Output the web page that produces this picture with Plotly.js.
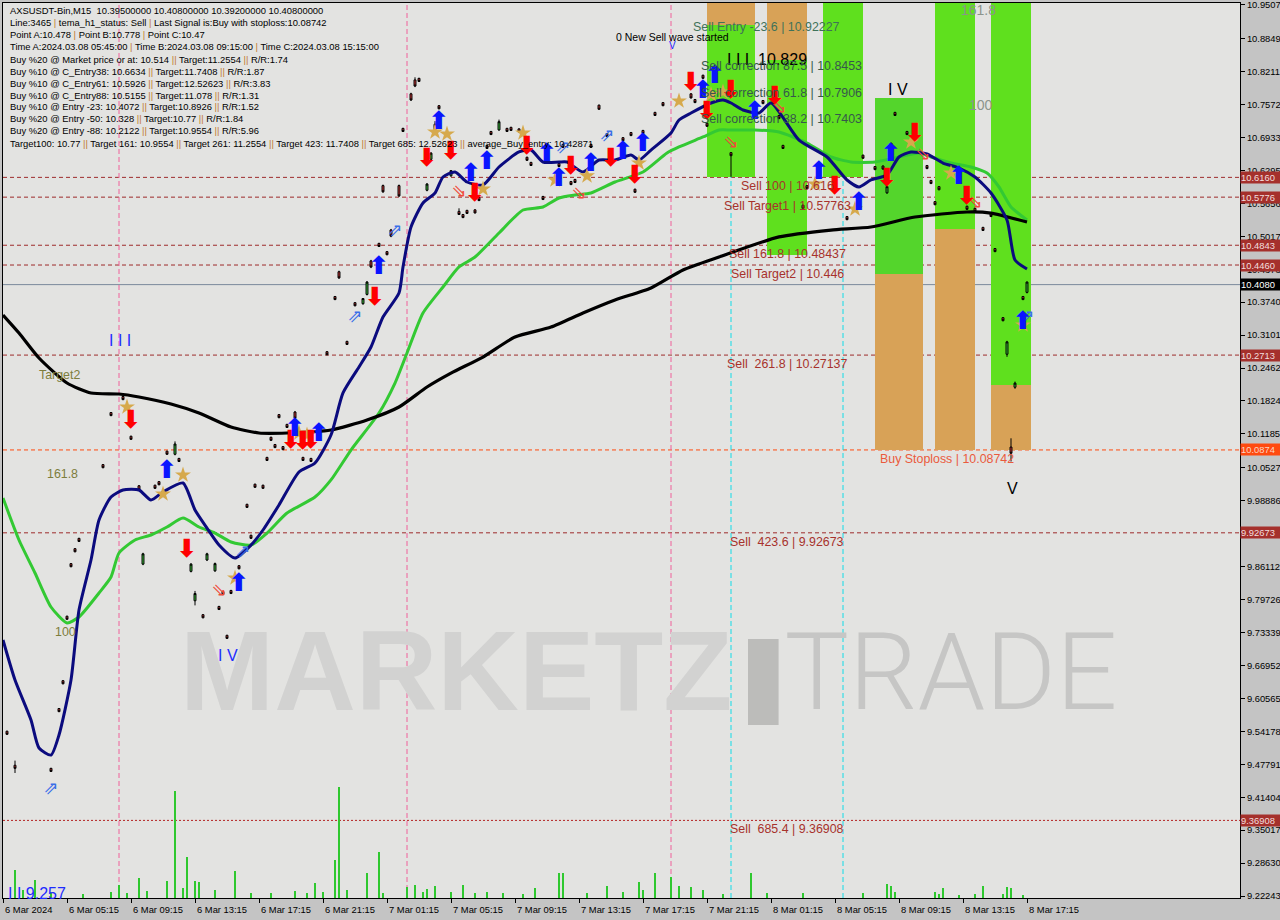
<!DOCTYPE html>
<html>
<head>
<meta charset="utf-8">
<script src="https://cdn.plot.ly/plotly-3.0.1.min.js"></script>
<style>html,body{margin:0;padding:0;background:#c4c4c4;}#chart{width:1280px;height:920px;}</style>
</head>
<body>
<div id="chart"></div>
<script>
// ---------- X axis (bar index, 15-minute bars) ----------
const tickBars = [0,16,32,48,64,80,96,112,128,144,160,176,192,208,224,240,256];
const tickLabels = ["6 Mar 2024","6 Mar 05:15","6 Mar 09:15","6 Mar 13:15","6 Mar 17:15","6 Mar 21:15","7 Mar 01:15","7 Mar 05:15","7 Mar 09:15","7 Mar 13:15","7 Mar 17:15","7 Mar 21:15","8 Mar 01:15","8 Mar 05:15","8 Mar 09:15","8 Mar 13:15","8 Mar 17:15"];

// ---------- Y axis (price) ----------
const yTickVals = [10.9507,10.8849,10.8211,10.7572,10.6933,10.6295,10.5656,10.5017,10.4378,10.3740,10.3101,10.2462,10.1824,10.1185,10.0527,9.98886,9.92499,9.86112,9.79726,9.73339,9.66952,9.60565,9.54178,9.47791,9.41404,9.35017,9.28630,9.22243];
const yTickText = ["10.9507","10.8849","10.8211","10.7572","10.6933","10.6295","10.5656","10.5017","10.4378","10.3740","10.3101","10.2462","10.1824","10.1185","10.0527","9.98886","9.92499","9.86112","9.79726","9.73339","9.66952","9.60565","9.54178","9.47791","9.41404","9.35017","9.28630","9.22243"];

// ---------- Moving-average lines ----------
const navyBar = [0,3,7,9,12,14,17,19,22,24,27,30,34,37,40,45,48,51,54,58,62,65,69,74,78,82,85,89,92,95,99,100,102,105,108,110,113,116,120,124,129,132,135,139,141,145,149,153,157,159,162,167,169,172,177,180,182,185,189,192,199,206,211,214,217,221,224,227,231,235,239,243,247,251,253,256];
const navyVal = [9.7189,9.6413,9.5637,9.5094,9.4958,9.5347,9.6413,9.7770,9.8740,9.9515,9.9962,10.0097,10.0097,9.9903,10.0059,10.0233,9.9710,9.9360,9.9030,9.8778,9.9030,9.9322,9.9807,10.0447,10.0622,10.1164,10.1979,10.2482,10.2870,10.3452,10.3917,10.4421,10.5197,10.5663,10.5856,10.6167,10.6264,10.6070,10.6012,10.6361,10.6652,10.6690,10.6458,10.6458,10.6458,10.6264,10.6496,10.6496,10.6593,10.6496,10.6690,10.7020,10.7272,10.7408,10.7602,10.7660,10.7602,10.7466,10.7408,10.7602,10.6884,10.6555,10.6109,10.5973,10.6109,10.6206,10.6555,10.6652,10.6613,10.6438,10.6341,10.6167,10.5856,10.5333,10.4557,10.4383];
const greenBar = [0,4,8,12,16,19,24,27,29,33,37,41,45,49,53,57,62,66,71,78,82,87,94,98,101,105,110,114,118,124,130,135,139,143,147,153,160,166,169,175,179,182,188,194,201,207,212,218,224,229,232,237,242,246,249,252,256];
const greenVal = [9.9942,9.9128,9.8488,9.7829,9.7519,9.7635,9.8100,9.8410,9.8876,9.9128,9.9225,9.9380,9.9555,9.9380,9.9263,9.9089,9.9030,9.9263,9.9651,9.9961,10.0293,10.0873,10.1590,10.2172,10.2754,10.3530,10.4034,10.4422,10.4615,10.5081,10.5527,10.5585,10.5760,10.5818,10.5857,10.6070,10.6264,10.6632,10.6749,10.6943,10.7078,10.7078,10.7078,10.7040,10.6826,10.6555,10.6458,10.6458,10.6555,10.6632,10.6555,10.6438,10.6361,10.6244,10.5973,10.5585,10.5333];
const blackBar = [0,4,9,16,22,29,34,42,49,57,64,71,82,91,99,106,112,120,128,137,145,153,162,170,179,194,207,217,228,241,247,256];
const blackVal = [10.3491,10.3142,10.2657,10.2172,10.1978,10.1959,10.1901,10.1765,10.1591,10.1319,10.1203,10.1203,10.1261,10.1455,10.1707,10.2095,10.2364,10.2676,10.3064,10.3257,10.3530,10.3782,10.4015,10.4364,10.4616,10.5005,10.5138,10.5197,10.5391,10.5488,10.5468,10.5294];

// ---------- Candles ----------
const candleBar = [1,3,12,14,15,16,17,18,19,25,27,30,32,34,35,38,39,41,43,44,47,48,50,51,53,54,55,56,57,59,61,62,63,65,66,67,68,69,70,71,73,75,77,81,83,84,86,88,90,91,92,94,95,96,97,99,100,102,103,104,106,107,108,109,112,114,115,116,118,119,121,122,124,126,127,129,131,132,135,139,140,142,143,147,149,151,155,157,158,160,163,165,172,173,175,176,182,190,194,195,200,201,204,208,211,215,218,220,221,222,223,226,231,232,233,234,241,243,245,247,248,250,251,252,253,255,256];
const candleOpen = [9.542,9.476,9.470,9.586,9.640,9.765,9.867,9.896,9.916,10.059,10.160,10.191,10.114,10.018,9.866,10.019,10.026,10.085,10.079,10.071,9.852,9.795,9.768,9.874,9.853,9.784,9.813,9.728,9.815,9.863,9.982,9.922,10.021,10.019,10.073,10.112,10.098,10.156,10.094,10.137,10.161,10.073,10.071,10.278,10.385,10.433,10.298,10.373,10.371,10.389,10.454,10.488,10.600,10.472,10.514,10.600,10.711,10.778,10.805,10.808,10.591,10.651,10.719,10.755,10.619,10.550,10.544,10.552,10.553,10.577,10.678,10.705,10.708,10.711,10.713,10.710,10.655,10.645,10.579,10.643,10.680,10.608,10.612,10.680,10.756,10.701,10.693,10.703,10.593,10.707,10.742,10.761,10.778,10.767,10.814,10.721,10.664,10.765,10.736,10.678,10.562,10.600,10.643,10.608,10.540,10.659,10.637,10.638,10.586,10.682,10.742,10.705,10.639,10.610,10.569,10.598,10.560,10.556,10.519,10.546,10.478,10.344,10.273,10.093,10.209,10.385,10.393];
const candleHigh = [9.543,9.485,9.471,9.587,9.641,9.766,9.868,9.897,9.917,10.060,10.161,10.192,10.115,10.019,9.888,10.020,10.027,10.086,10.104,10.072,9.868,9.814,9.769,9.888,9.869,9.785,9.814,9.729,9.816,9.864,9.983,9.923,10.022,10.020,10.074,10.113,10.099,10.157,10.095,10.138,10.163,10.074,10.072,10.279,10.386,10.435,10.299,10.374,10.382,10.415,10.456,10.489,10.602,10.473,10.516,10.602,10.712,10.780,10.810,10.809,10.605,10.665,10.725,10.756,10.630,10.556,10.545,10.553,10.554,10.578,10.679,10.706,10.728,10.712,10.714,10.711,10.656,10.646,10.580,10.644,10.681,10.609,10.613,10.681,10.757,10.702,10.694,10.704,10.594,10.708,10.743,10.762,10.779,10.768,10.815,10.722,10.665,10.766,10.737,10.679,10.563,10.601,10.644,10.609,10.541,10.660,10.638,10.639,10.600,10.683,10.743,10.706,10.640,10.611,10.570,10.599,10.561,10.557,10.520,10.547,10.479,10.345,10.299,10.110,10.220,10.386,10.414];
const candleLow = [9.535,9.461,9.463,9.579,9.633,9.758,9.860,9.889,9.909,10.052,10.153,10.184,10.107,10.009,9.864,10.012,10.019,10.078,10.077,10.064,9.850,9.786,9.761,9.872,9.851,9.777,9.806,9.721,9.808,9.856,9.975,9.915,10.014,10.012,10.066,10.105,10.091,10.149,10.087,10.130,10.147,10.066,10.064,10.271,10.378,10.419,10.291,10.366,10.369,10.387,10.440,10.481,10.586,10.465,10.500,10.578,10.704,10.764,10.791,10.801,10.589,10.649,10.708,10.748,10.617,10.543,10.537,10.545,10.546,10.570,10.671,10.698,10.706,10.704,10.706,10.703,10.648,10.638,10.572,10.636,10.673,10.601,10.605,10.673,10.747,10.694,10.686,10.696,10.586,10.700,10.735,10.754,10.769,10.760,10.807,10.714,10.617,10.758,10.729,10.671,10.555,10.593,10.636,10.601,10.533,10.652,10.630,10.631,10.584,10.675,10.735,10.698,10.632,10.603,10.562,10.591,10.553,10.549,10.512,10.539,10.471,10.337,10.268,10.065,10.206,10.378,10.391];
const candleClose = [9.536,9.470,9.464,9.580,9.634,9.759,9.861,9.890,9.910,10.053,10.154,10.185,10.108,10.010,9.886,10.013,10.020,10.079,10.099,10.065,9.866,9.809,9.762,9.886,9.867,9.778,9.807,9.722,9.809,9.857,9.976,9.916,10.015,10.013,10.067,10.106,10.092,10.150,10.088,10.131,10.149,10.067,10.065,10.272,10.379,10.421,10.292,10.367,10.381,10.413,10.442,10.482,10.588,10.466,10.502,10.580,10.705,10.766,10.793,10.802,10.603,10.663,10.709,10.749,10.629,10.544,10.538,10.546,10.547,10.571,10.672,10.699,10.724,10.705,10.707,10.704,10.649,10.639,10.573,10.637,10.674,10.602,10.606,10.674,10.748,10.695,10.687,10.697,10.587,10.701,10.736,10.755,10.770,10.761,10.808,10.715,10.658,10.759,10.730,10.672,10.556,10.594,10.637,10.602,10.534,10.653,10.631,10.632,10.598,10.676,10.736,10.699,10.633,10.604,10.563,10.592,10.554,10.550,10.513,10.540,10.472,10.338,10.297,10.081,10.217,10.379,10.413];

// ---------- Volume (relative units) ----------
const volumeBar = [3,5,8,12,20,27,29,31,34,36,41,43,45,46,48,49,53,58,62,67,73,76,78,80,83,84,86,91,94,95,101,103,105,106,108,112,115,118,121,125,130,133,139,140,146,151,155,159,160,163,167,169,172,175,180,187,191,200,215,221,222,223,233,234,235,239,243,245,250,251,252,255];
const volumeVal = [28,8,18,6,4,6,13,5,20,7,17,107,10,41,17,16,8,27,5,5,7,5,15,6,38,111,8,25,46,5,11,13,6,9,12,6,13,5,6,5,4,10,25,25,5,12,6,16,8,25,21,12,11,8,4,25,5,5,5,14,12,6,6,4,10,3,4,12,4,11,10,3];

// ---------- Signals ----------
const downArrowBar = [32,46,72,75,77,93,106,112,118,131,142,152,158,172,176,182,193,208,221,228,241];
const downArrowVal = [10.1416,9.8914,10.1028,10.1009,10.1028,10.3801,10.6496,10.6632,10.5818,10.6729,10.6341,10.6496,10.6167,10.7970,10.7408,10.7815,10.7699,10.5953,10.6109,10.6981,10.5759];
const upArrowBar = [41,59,73,79,94,109,117,121,136,139,147,155,160,175,178,188,204,214,222,239,255];
const upArrowVal = [10.0446,9.8255,10.1261,10.1164,10.4402,10.7214,10.6206,10.6438,10.6593,10.6109,10.6399,10.6632,10.6787,10.7815,10.8106,10.7408,10.6244,10.5643,10.6593,10.6148,10.3336];
const starBar = [31,45,40,58,74,76,111,108,120,130,138,146,159,169,177,180,203,213,227,237,255];
const starVal = [10.1707,10.0388,10.0020,9.8391,10.1203,10.1164,10.7001,10.7040,10.5934,10.7020,10.6109,10.6187,10.6438,10.7641,10.7766,10.7815,10.6031,10.5546,10.6846,10.6244,10.3297];
const hollowUpBar = [12,60,88,98,140,151,256];
const hollowUpVal = [9.4281,9.8895,10.3433,10.5104,10.6729,10.6962,10.3433];
const hollowDownBar = [54,114,144,182,194,230,243];
const hollowDownVal = [9.8139,10.5857,10.5837,10.6826,10.7505,10.6593,10.5662];

// ---------- Levels ----------
const levelPrice = [10.616,10.57763,10.48437,10.446,10.27137,10.08742,9.92673,9.36908];
const levelName = ["Sell 100 | 10.616","Sell Target1 | 10.57763","Sell 161.8 | 10.48437","Sell Target2 | 10.446","Sell  261.8 | 10.27137","Buy Stoploss | 10.08742","Sell  423.6 | 9.92673","Sell  685.4 | 9.36908"];
const levelTag = ["10.6160","10.5776","10.4843","10.4460","10.2713","10.0874","9.92673","9.36908"];
const levelKind = ["sell","sell","sell","sell","sell","stop","sell","far"];
const levelLabelBar = [196,196,196,196,196,236,196,196];
const currentPrice = 10.408;
const currentTag = "10.4080";

// ---------- Zones ----------
const zoneStart = [176,191,205,218,233,247];
const zoneEnd = [188,201,215,230,243,257];
const zoneGreenHigh = [10.9114,10.8436,10.9541,10.7699,10.9541,10.9541];
const zoneGreenLow = [10.6167,10.4654,10.6167,10.4286,10.5158,10.2134];
const zoneOrangeHigh = [10.9541,10.9541,null,10.4286,10.5158,10.2134];
const zoneOrangeLow = [10.9114,10.8436,null,10.0874,10.0874,10.0874];

// ---------- Vertical markers ----------
const vlineBar = [29,101,167,182,210];
const vlineKind = ["pink","pink","pink","cyan","cyan"];

// ---------- Notes on chart ----------
const noteText = ["Sell Entry -23.6 | 10.92227","0 New Sell wave started","V","I I I  10.829","Sell correction 87.5 | 10.8453","Sell correction 61.8 | 10.7906","Sell correction 38.2 | 10.7403","I V","161.8","100","V","Target2","161.8","100","I I I","I V","I I 9.257"];
const noteBar = [190.75,167.25,167.25,191,194.5,194.5,194.5,223.75,243.75,244.5,252.25,14,14.75,15.5,29.25,56.25,8.5];
const notePrice = [10.9075,10.8882,10.8726,10.8436,10.8319,10.7796,10.7292,10.7873,10.9405,10.7563,10.0136,10.2327,10.0407,9.7344,10.2987,9.6898,9.2283];
const noteKind = ["entry","black","blue_s","black_l","corr","corr","corr","black_l","gray","gray","black_l","olive","olive","olive","blue","blue","blue"];

// ---------- Info panel ----------
const infoLines = [
 "AXSUSDT-Bin,M15  10.39500000 10.40800000 10.39200000 10.40800000",
 "Line:3465 | tema_h1_status: Sell | Last Signal is:Buy with stoploss:10.08742",
 "Point A:10.478 | Point B:10.778 | Point C:10.47",
 "Time A:2024.03.08 05:45:00 | Time B:2024.03.08 09:15:00 | Time C:2024.03.08 15:15:00",
 "Buy %20 @ Market price or at: 10.514 || Target:11.2554 || R/R:1.74",
 "Buy %10 @ C_Entry38: 10.6634 || Target:11.7408 || R/R:1.87",
 "Buy %10 @ C_Entry61: 10.5926 || Target:12.52623 || R/R:3.83",
 "Buy %10 @ C_Entry88: 10.5155 || Target:11.078 || R/R:1.31",
 "Buy %10 @ Entry -23: 10.4072 || Target:10.8926 || R/R:1.52",
 "Buy %20 @ Entry -50: 10.328 || Target:10.77 || R/R:1.84",
 "Buy %20 @ Entry -88: 10.2122 || Target:10.9554 || R/R:5.96",
 "Target100: 10.77 || Target 161: 10.9554 || Target 261: 11.2554 || Target 423: 11.7408 || Target 685: 12.52623 || average_Buy_entry: 10.42871"
];

// ---------- Watermark ----------
const watermarkText = ["MARKETZ","TRADE"];
const watermarkBar = [113.3,237];
const watermarkPrice = [9.6374,9.6374];

// ================= build =================
const FONT = "Liberation Sans, Arial, sans-serif";
const Y_RANGE = [9.2186, 10.9541];
const X_RANGE = [0, 309.25];

const traces = [];
traces.push({type:'scatter', mode:'text', x:[watermarkBar[0]], y:[watermarkPrice[0]], text:[watermarkText[0]],
  textfont:{family:"Liberation Sans, Arial, sans-serif", size:113, weight:'bold', color:'#d2d2d1'}, hoverinfo:'skip'});
traces.push({type:'scatter', mode:'text', x:[watermarkBar[1]], y:[watermarkPrice[1]], text:[watermarkText[1]],
  textfont:{family:"Roboto, Liberation Sans, sans-serif", size:108, weight:300, color:'#c6c6c5'}, hoverinfo:'skip'});

traces.push({type:'bar', x:volumeBar, y:volumeVal, yaxis:'y2', width:0.3,
  marker:{color:'#2fc82f', line:{width:0}}, hoverinfo:'skip'});

traces.push({type:'candlestick', x:candleBar, open:candleOpen, high:candleHigh, low:candleLow, close:candleClose,
  increasing:{line:{color:'#000000', width:1}, fillcolor:'#3cc83c'},
  decreasing:{line:{color:'#000000', width:1}, fillcolor:'#d83a3a'},
  whiskerwidth:0, hoverinfo:'skip'});

traces.push({type:'scatter', mode:'lines', x:greenBar, y:greenVal, line:{color:'#33c933', width:3, shape:'spline', smoothing:0.6}, hoverinfo:'skip'});
traces.push({type:'scatter', mode:'lines', x:blackBar, y:blackVal, line:{color:'#000000', width:3.2, shape:'spline', smoothing:0.6}, hoverinfo:'skip'});
traces.push({type:'scatter', mode:'lines', x:navyBar, y:navyVal, line:{color:'#0b0b7e', width:3, shape:'spline', smoothing:0.6}, hoverinfo:'skip'});

traces.push({type:'scatter', mode:'markers', x:starBar, y:starVal, marker:{symbol:'star', size:12, color:'#d6a94c', line:{width:0}}, hoverinfo:'skip'});
traces.push({type:'scatter', mode:'text', x:hollowUpBar, y:hollowUpVal, text:hollowUpBar.map(()=>'⇗'),
  textfont:{family:'DejaVu Sans', size:18, color:'#3a6fe8'}, hoverinfo:'skip'});
traces.push({type:'scatter', mode:'text', x:hollowDownBar, y:hollowDownVal, text:hollowDownBar.map(()=>'⇘'),
  textfont:{family:'DejaVu Sans', size:18, color:'#f04a3a'}, hoverinfo:'skip'});
traces.push({type:'scatter', mode:'text', x:downArrowBar, y:downArrowVal, text:downArrowBar.map(()=>'⬇'),
  textfont:{family:'DejaVu Sans', size:25, weight:'bold', color:'#ff0000'}, hoverinfo:'skip'});
traces.push({type:'scatter', mode:'text', x:upArrowBar, y:upArrowVal, text:upArrowBar.map(()=>'⬆'),
  textfont:{family:'DejaVu Sans', size:25, weight:'bold', color:'#0a14ff'}, hoverinfo:'skip'});

// shapes
const shapes = [];
zoneStart.forEach((x0,i)=>{
  if (zoneOrangeHigh[i] !== null) {
    shapes.push({type:'rect', layer:'below', xref:'x', yref:'y', x0:x0, x1:zoneEnd[i], y0:zoneOrangeLow[i], y1:zoneOrangeHigh[i],
      fillcolor:'#d8a257', line:{width:0}});
  }
  shapes.push({type:'rect', layer:'below', xref:'x', yref:'y', x0:x0, x1:zoneEnd[i], y0:zoneGreenLow[i], y1:zoneGreenHigh[i],
    fillcolor: i===3 ? '#54d52c' : '#5fe01e', line:{width:0}});
});
// watermark block "I"
shapes.push({type:'rect', layer:'below', xref:'x', yref:'y', x0:186.25, x1:193.9, y0:9.5541, y1:9.7208, fillcolor:'#bcbcba', line:{width:0}});

const levelStyle = {
  sell:{color:'#9e2b2b', dash:'4px,3px', text:'#a7322c', box:'#a5302c', boxText:'#f2dede'},
  stop:{color:'#ff4a0e', dash:'4px,3px', text:'#ea5a3c', box:'#ff4a10', boxText:'#fbd6c6'},
  far: {color:'#b52222', dash:'2px,2px', text:'#a7322c', box:'#a5302c', boxText:'#f2dede'}
};
levelPrice.forEach((p,i)=>{
  const st = levelStyle[levelKind[i]];
  shapes.push({type:'line', layer:'below', xref:'paper', yref:'y', x0:0, x1:1, y0:p, y1:p, line:{color:st.color, width:1, dash:st.dash}});
});
shapes.push({type:'line', layer:'below', xref:'paper', yref:'y', x0:0, x1:1, y0:currentPrice, y1:currentPrice, line:{color:'#7b8a9b', width:1}});
const vColor = {pink:'#f0609a', cyan:'#10dce8'};
vlineBar.forEach((b,i)=>{
  shapes.push({type:'line', layer:'below', xref:'x', yref:'paper', x0:b, x1:b, y0:0, y1:1, line:{color:vColor[vlineKind[i]], width:1, dash:'5px,3px'}});
});

// annotations
const ann = [];
const PLOT_TOP = 3, PLOT_H = 895;
const sep = s => s.replace(/\|/g, "<span style='color:#c0782c'>|</span>");
infoLines.forEach((t,k)=>{
  const ypx = 11 + 12*k;
  ann.push({xref:'paper', yref:'paper', x:0.004, y:1-(ypx-PLOT_TOP)/PLOT_H, xanchor:'left', yanchor:'middle',
    text:sep(t), showarrow:false, font:{family:FONT, size:9.4, color:'#000000'}});
});
levelPrice.forEach((p,i)=>{
  const st = levelStyle[levelKind[i]];
  ann.push({xref:'x', yref:'y', x:levelLabelBar[i], y:p, xanchor:'center', yanchor:'top', yshift:0,
    text:levelName[i], showarrow:false, font:{family:FONT, size:12.4, color:st.text}});
  ann.push({xref:'paper', yref:'y', x:1, y:p, xanchor:'left', yanchor:'middle', xshift:0,
    text:levelTag[i], showarrow:false, bgcolor:st.box, borderpad:0, width:40, height:11, align:'left',
    font:{family:FONT, size:9.4, color:st.boxText}});
});
ann.push({xref:'paper', yref:'y', x:1, y:currentPrice, xanchor:'left', yanchor:'middle', text:currentTag, showarrow:false,
  bgcolor:'#000000', borderpad:0, width:40, height:11, align:'left', font:{family:FONT, size:9.4, color:'#ffffff'}});
tickBars.forEach((b,i)=>{
  ann.push({xref:'x', yref:'paper', x:b, y:0, xanchor:'left', yanchor:'top', xshift:0, yshift:-4,
    text:tickLabels[i], showarrow:false, font:{family:FONT, size:9.4, color:'#000000'}});
});
const noteStyle = {
  entry:{color:'#3f7259', size:12.4}, corr:{color:'#36584c', size:12.4},
  black:{color:'#000000', size:10.5}, black_l:{color:'#000000', size:16},
  blue_s:{color:'#1e2cff', size:10}, blue:{color:'#1e2cff', size:16},
  gray:{color:'#8c948c', size:14}, olive:{color:'#7d7d3c', size:12.4}
};
noteText.forEach((t,i)=>{
  const st = noteStyle[noteKind[i]];
  ann.push({xref:'x', yref:'y', x:noteBar[i], y:notePrice[i], xanchor:'center', yanchor:'middle',
    text:t, showarrow:false, font:{family:FONT, size:st.size, color:st.color}});
});

const layout = {
  width:1280, height:920,
  margin:{l:3, r:40, t:3, b:22, pad:0},
  paper_bgcolor:'#c4c4c4', plot_bgcolor:'#e3e3e1',
  showlegend:false, bargap:0,
  xaxis:{range:X_RANGE, tickvals:tickBars, ticks:'outside', ticklen:4, tickcolor:'#000', showticklabels:false,
    showgrid:false, zeroline:false, showline:true, linecolor:'#000', linewidth:1, mirror:true,
    rangeslider:{visible:false}, fixedrange:true},
  yaxis:{range:Y_RANGE, side:'right', tickvals:yTickVals, ticktext:yTickText, ticks:'outside', ticklen:4, tickcolor:'#000',
    tickfont:{family:FONT, size:9.4, color:'#000'}, ticklabeloverflow:'allow', showgrid:false, zeroline:false, showline:true, linecolor:'#000',
    linewidth:1, mirror:true, fixedrange:true},
  yaxis2:{range:[0,895], overlaying:'y', visible:false, fixedrange:true},
  shapes:shapes, annotations:ann
};
Plotly.newPlot('chart', traces, layout, {staticPlot:true, displayModeBar:false});
</script>
</body>
</html>
